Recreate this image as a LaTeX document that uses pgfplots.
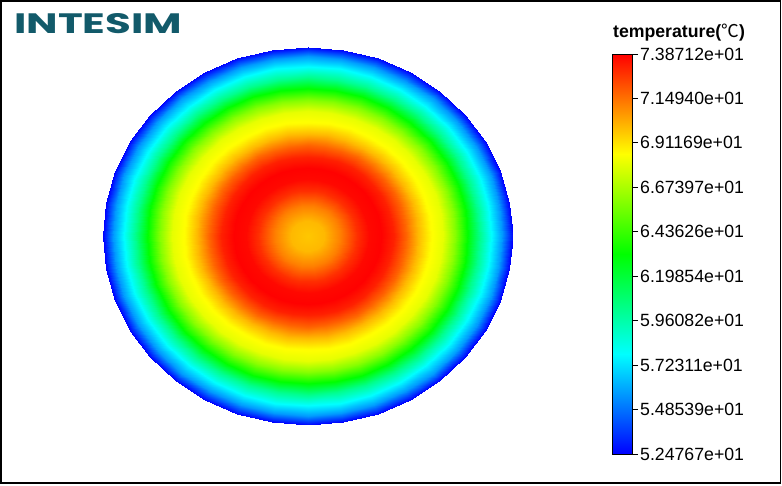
\documentclass[border=0pt]{standalone}
\usepackage{pgfplots}
\pgfplotsset{compat=1.18}
\usepackage{fontspec}
\setmainfont{Liberation Sans}
\newfontfamily\cjk{Noto Sans CJK SC}
\newfontfamily\logofont{Poppins}
\definecolor{logoteal}{RGB}{18,90,106}
\pgfplotsset{colormap={jetlike}{rgb255=(0,0,255) rgb255=(0,255,255) rgb255=(0,255,0) rgb255=(255,255,0) rgb255=(255,0,0)}}
\begin{document}
\begin{tikzpicture}[x=1pt,y=1pt]
\useasboundingbox (0,0) rectangle (782,485);
\begin{axis}[at={(307.5pt,249pt)}, anchor=center, width=410pt, height=378pt, scale only axis,
  xmin=-1,xmax=1,ymin=-1,ymax=1, hide axis, colormap name=jetlike,
  point meta min=52.4767, point meta max=73.8712]
\addplot[surf, shader=interp, data cs=polar, mesh/cols=17, point meta=explicit] table[x=a,y=r,meta=T] {
a r T
0 0 69.7
0 0.08 70.0
0 0.16 71.2
0 0.24 72.9
0 0.3 73.7
0 0.36 73.85
0 0.42 73.2
0 0.48 71.8
0 0.54 70.0
0 0.6 68.6
0 0.66 68.0
0 0.72 66.0
0 0.78 63.3
0 0.84 60.2
0 0.9 57.7
0 0.95 55.7
0 1 52.5
10 0 69.7
10 0.08 70.0
10 0.16 71.2
10 0.24 72.9
10 0.3 73.7
10 0.36 73.85
10 0.42 73.2
10 0.48 71.8
10 0.54 70.0
10 0.6 68.6
10 0.66 68.0
10 0.72 66.0
10 0.78 63.3
10 0.84 60.2
10 0.9 57.7
10 0.95 55.7
10 1 52.5
20 0 69.7
20 0.08 70.0
20 0.16 71.2
20 0.24 72.9
20 0.3 73.7
20 0.36 73.85
20 0.42 73.2
20 0.48 71.8
20 0.54 70.0
20 0.6 68.6
20 0.66 68.0
20 0.72 66.0
20 0.78 63.3
20 0.84 60.2
20 0.9 57.7
20 0.95 55.7
20 1 52.5
30 0 69.7
30 0.08 70.0
30 0.16 71.2
30 0.24 72.9
30 0.3 73.7
30 0.36 73.85
30 0.42 73.2
30 0.48 71.8
30 0.54 70.0
30 0.6 68.6
30 0.66 68.0
30 0.72 66.0
30 0.78 63.3
30 0.84 60.2
30 0.9 57.7
30 0.95 55.7
30 1 52.5
40 0 69.7
40 0.08 70.0
40 0.16 71.2
40 0.24 72.9
40 0.3 73.7
40 0.36 73.85
40 0.42 73.2
40 0.48 71.8
40 0.54 70.0
40 0.6 68.6
40 0.66 68.0
40 0.72 66.0
40 0.78 63.3
40 0.84 60.2
40 0.9 57.7
40 0.95 55.7
40 1 52.5
50 0 69.7
50 0.08 70.0
50 0.16 71.2
50 0.24 72.9
50 0.3 73.7
50 0.36 73.85
50 0.42 73.2
50 0.48 71.8
50 0.54 70.0
50 0.6 68.6
50 0.66 68.0
50 0.72 66.0
50 0.78 63.3
50 0.84 60.2
50 0.9 57.7
50 0.95 55.7
50 1 52.5
60 0 69.7
60 0.08 70.0
60 0.16 71.2
60 0.24 72.9
60 0.3 73.7
60 0.36 73.85
60 0.42 73.2
60 0.48 71.8
60 0.54 70.0
60 0.6 68.6
60 0.66 68.0
60 0.72 66.0
60 0.78 63.3
60 0.84 60.2
60 0.9 57.7
60 0.95 55.7
60 1 52.5
70 0 69.7
70 0.08 70.0
70 0.16 71.2
70 0.24 72.9
70 0.3 73.7
70 0.36 73.85
70 0.42 73.2
70 0.48 71.8
70 0.54 70.0
70 0.6 68.6
70 0.66 68.0
70 0.72 66.0
70 0.78 63.3
70 0.84 60.2
70 0.9 57.7
70 0.95 55.7
70 1 52.5
80 0 69.7
80 0.08 70.0
80 0.16 71.2
80 0.24 72.9
80 0.3 73.7
80 0.36 73.85
80 0.42 73.2
80 0.48 71.8
80 0.54 70.0
80 0.6 68.6
80 0.66 68.0
80 0.72 66.0
80 0.78 63.3
80 0.84 60.2
80 0.9 57.7
80 0.95 55.7
80 1 52.5
90 0 69.7
90 0.08 70.0
90 0.16 71.2
90 0.24 72.9
90 0.3 73.7
90 0.36 73.85
90 0.42 73.2
90 0.48 71.8
90 0.54 70.0
90 0.6 68.6
90 0.66 68.0
90 0.72 66.0
90 0.78 63.3
90 0.84 60.2
90 0.9 57.7
90 0.95 55.7
90 1 52.5
100 0 69.7
100 0.08 70.0
100 0.16 71.2
100 0.24 72.9
100 0.3 73.7
100 0.36 73.85
100 0.42 73.2
100 0.48 71.8
100 0.54 70.0
100 0.6 68.6
100 0.66 68.0
100 0.72 66.0
100 0.78 63.3
100 0.84 60.2
100 0.9 57.7
100 0.95 55.7
100 1 52.5
110 0 69.7
110 0.08 70.0
110 0.16 71.2
110 0.24 72.9
110 0.3 73.7
110 0.36 73.85
110 0.42 73.2
110 0.48 71.8
110 0.54 70.0
110 0.6 68.6
110 0.66 68.0
110 0.72 66.0
110 0.78 63.3
110 0.84 60.2
110 0.9 57.7
110 0.95 55.7
110 1 52.5
120 0 69.7
120 0.08 70.0
120 0.16 71.2
120 0.24 72.9
120 0.3 73.7
120 0.36 73.85
120 0.42 73.2
120 0.48 71.8
120 0.54 70.0
120 0.6 68.6
120 0.66 68.0
120 0.72 66.0
120 0.78 63.3
120 0.84 60.2
120 0.9 57.7
120 0.95 55.7
120 1 52.5
130 0 69.7
130 0.08 70.0
130 0.16 71.2
130 0.24 72.9
130 0.3 73.7
130 0.36 73.85
130 0.42 73.2
130 0.48 71.8
130 0.54 70.0
130 0.6 68.6
130 0.66 68.0
130 0.72 66.0
130 0.78 63.3
130 0.84 60.2
130 0.9 57.7
130 0.95 55.7
130 1 52.5
140 0 69.7
140 0.08 70.0
140 0.16 71.2
140 0.24 72.9
140 0.3 73.7
140 0.36 73.85
140 0.42 73.2
140 0.48 71.8
140 0.54 70.0
140 0.6 68.6
140 0.66 68.0
140 0.72 66.0
140 0.78 63.3
140 0.84 60.2
140 0.9 57.7
140 0.95 55.7
140 1 52.5
150 0 69.7
150 0.08 70.0
150 0.16 71.2
150 0.24 72.9
150 0.3 73.7
150 0.36 73.85
150 0.42 73.2
150 0.48 71.8
150 0.54 70.0
150 0.6 68.6
150 0.66 68.0
150 0.72 66.0
150 0.78 63.3
150 0.84 60.2
150 0.9 57.7
150 0.95 55.7
150 1 52.5
160 0 69.7
160 0.08 70.0
160 0.16 71.2
160 0.24 72.9
160 0.3 73.7
160 0.36 73.85
160 0.42 73.2
160 0.48 71.8
160 0.54 70.0
160 0.6 68.6
160 0.66 68.0
160 0.72 66.0
160 0.78 63.3
160 0.84 60.2
160 0.9 57.7
160 0.95 55.7
160 1 52.5
170 0 69.7
170 0.08 70.0
170 0.16 71.2
170 0.24 72.9
170 0.3 73.7
170 0.36 73.85
170 0.42 73.2
170 0.48 71.8
170 0.54 70.0
170 0.6 68.6
170 0.66 68.0
170 0.72 66.0
170 0.78 63.3
170 0.84 60.2
170 0.9 57.7
170 0.95 55.7
170 1 52.5
180 0 69.7
180 0.08 70.0
180 0.16 71.2
180 0.24 72.9
180 0.3 73.7
180 0.36 73.85
180 0.42 73.2
180 0.48 71.8
180 0.54 70.0
180 0.6 68.6
180 0.66 68.0
180 0.72 66.0
180 0.78 63.3
180 0.84 60.2
180 0.9 57.7
180 0.95 55.7
180 1 52.5
190 0 69.7
190 0.08 70.0
190 0.16 71.2
190 0.24 72.9
190 0.3 73.7
190 0.36 73.85
190 0.42 73.2
190 0.48 71.8
190 0.54 70.0
190 0.6 68.6
190 0.66 68.0
190 0.72 66.0
190 0.78 63.3
190 0.84 60.2
190 0.9 57.7
190 0.95 55.7
190 1 52.5
200 0 69.7
200 0.08 70.0
200 0.16 71.2
200 0.24 72.9
200 0.3 73.7
200 0.36 73.85
200 0.42 73.2
200 0.48 71.8
200 0.54 70.0
200 0.6 68.6
200 0.66 68.0
200 0.72 66.0
200 0.78 63.3
200 0.84 60.2
200 0.9 57.7
200 0.95 55.7
200 1 52.5
210 0 69.7
210 0.08 70.0
210 0.16 71.2
210 0.24 72.9
210 0.3 73.7
210 0.36 73.85
210 0.42 73.2
210 0.48 71.8
210 0.54 70.0
210 0.6 68.6
210 0.66 68.0
210 0.72 66.0
210 0.78 63.3
210 0.84 60.2
210 0.9 57.7
210 0.95 55.7
210 1 52.5
220 0 69.7
220 0.08 70.0
220 0.16 71.2
220 0.24 72.9
220 0.3 73.7
220 0.36 73.85
220 0.42 73.2
220 0.48 71.8
220 0.54 70.0
220 0.6 68.6
220 0.66 68.0
220 0.72 66.0
220 0.78 63.3
220 0.84 60.2
220 0.9 57.7
220 0.95 55.7
220 1 52.5
230 0 69.7
230 0.08 70.0
230 0.16 71.2
230 0.24 72.9
230 0.3 73.7
230 0.36 73.85
230 0.42 73.2
230 0.48 71.8
230 0.54 70.0
230 0.6 68.6
230 0.66 68.0
230 0.72 66.0
230 0.78 63.3
230 0.84 60.2
230 0.9 57.7
230 0.95 55.7
230 1 52.5
240 0 69.7
240 0.08 70.0
240 0.16 71.2
240 0.24 72.9
240 0.3 73.7
240 0.36 73.85
240 0.42 73.2
240 0.48 71.8
240 0.54 70.0
240 0.6 68.6
240 0.66 68.0
240 0.72 66.0
240 0.78 63.3
240 0.84 60.2
240 0.9 57.7
240 0.95 55.7
240 1 52.5
250 0 69.7
250 0.08 70.0
250 0.16 71.2
250 0.24 72.9
250 0.3 73.7
250 0.36 73.85
250 0.42 73.2
250 0.48 71.8
250 0.54 70.0
250 0.6 68.6
250 0.66 68.0
250 0.72 66.0
250 0.78 63.3
250 0.84 60.2
250 0.9 57.7
250 0.95 55.7
250 1 52.5
260 0 69.7
260 0.08 70.0
260 0.16 71.2
260 0.24 72.9
260 0.3 73.7
260 0.36 73.85
260 0.42 73.2
260 0.48 71.8
260 0.54 70.0
260 0.6 68.6
260 0.66 68.0
260 0.72 66.0
260 0.78 63.3
260 0.84 60.2
260 0.9 57.7
260 0.95 55.7
260 1 52.5
270 0 69.7
270 0.08 70.0
270 0.16 71.2
270 0.24 72.9
270 0.3 73.7
270 0.36 73.85
270 0.42 73.2
270 0.48 71.8
270 0.54 70.0
270 0.6 68.6
270 0.66 68.0
270 0.72 66.0
270 0.78 63.3
270 0.84 60.2
270 0.9 57.7
270 0.95 55.7
270 1 52.5
280 0 69.7
280 0.08 70.0
280 0.16 71.2
280 0.24 72.9
280 0.3 73.7
280 0.36 73.85
280 0.42 73.2
280 0.48 71.8
280 0.54 70.0
280 0.6 68.6
280 0.66 68.0
280 0.72 66.0
280 0.78 63.3
280 0.84 60.2
280 0.9 57.7
280 0.95 55.7
280 1 52.5
290 0 69.7
290 0.08 70.0
290 0.16 71.2
290 0.24 72.9
290 0.3 73.7
290 0.36 73.85
290 0.42 73.2
290 0.48 71.8
290 0.54 70.0
290 0.6 68.6
290 0.66 68.0
290 0.72 66.0
290 0.78 63.3
290 0.84 60.2
290 0.9 57.7
290 0.95 55.7
290 1 52.5
300 0 69.7
300 0.08 70.0
300 0.16 71.2
300 0.24 72.9
300 0.3 73.7
300 0.36 73.85
300 0.42 73.2
300 0.48 71.8
300 0.54 70.0
300 0.6 68.6
300 0.66 68.0
300 0.72 66.0
300 0.78 63.3
300 0.84 60.2
300 0.9 57.7
300 0.95 55.7
300 1 52.5
310 0 69.7
310 0.08 70.0
310 0.16 71.2
310 0.24 72.9
310 0.3 73.7
310 0.36 73.85
310 0.42 73.2
310 0.48 71.8
310 0.54 70.0
310 0.6 68.6
310 0.66 68.0
310 0.72 66.0
310 0.78 63.3
310 0.84 60.2
310 0.9 57.7
310 0.95 55.7
310 1 52.5
320 0 69.7
320 0.08 70.0
320 0.16 71.2
320 0.24 72.9
320 0.3 73.7
320 0.36 73.85
320 0.42 73.2
320 0.48 71.8
320 0.54 70.0
320 0.6 68.6
320 0.66 68.0
320 0.72 66.0
320 0.78 63.3
320 0.84 60.2
320 0.9 57.7
320 0.95 55.7
320 1 52.5
330 0 69.7
330 0.08 70.0
330 0.16 71.2
330 0.24 72.9
330 0.3 73.7
330 0.36 73.85
330 0.42 73.2
330 0.48 71.8
330 0.54 70.0
330 0.6 68.6
330 0.66 68.0
330 0.72 66.0
330 0.78 63.3
330 0.84 60.2
330 0.9 57.7
330 0.95 55.7
330 1 52.5
340 0 69.7
340 0.08 70.0
340 0.16 71.2
340 0.24 72.9
340 0.3 73.7
340 0.36 73.85
340 0.42 73.2
340 0.48 71.8
340 0.54 70.0
340 0.6 68.6
340 0.66 68.0
340 0.72 66.0
340 0.78 63.3
340 0.84 60.2
340 0.9 57.7
340 0.95 55.7
340 1 52.5
350 0 69.7
350 0.08 70.0
350 0.16 71.2
350 0.24 72.9
350 0.3 73.7
350 0.36 73.85
350 0.42 73.2
350 0.48 71.8
350 0.54 70.0
350 0.6 68.6
350 0.66 68.0
350 0.72 66.0
350 0.78 63.3
350 0.84 60.2
350 0.9 57.7
350 0.95 55.7
350 1 52.5
360 0 69.7
360 0.08 70.0
360 0.16 71.2
360 0.24 72.9
360 0.3 73.7
360 0.36 73.85
360 0.42 73.2
360 0.48 71.8
360 0.54 70.0
360 0.6 68.6
360 0.66 68.0
360 0.72 66.0
360 0.78 63.3
360 0.84 60.2
360 0.9 57.7
360 0.95 55.7
360 1 52.5
};
\end{axis}
\begin{axis}[at={(612pt,31pt)}, anchor=south west, width=20pt, height=400pt, scale only axis,
  xmin=0, xmax=1, ymin=52.4767, ymax=73.8712, xtick=\empty,
  colormap name=jetlike, point meta min=52.4767, point meta max=73.8712,
  ytick={52.4767,54.8539,57.2311,59.6082,61.9854,64.3626,66.7397,69.1169,71.4940,73.8712},
  yticklabels={5.24767e+01,5.48539e+01,5.72311e+01,5.96082e+01,6.19854e+01,6.43626e+01,6.67397e+01,6.91169e+01,7.14940e+01,7.38712e+01},
  tick align=outside, major tick length=6pt, ytick pos=right, yticklabel pos=right,
  tick style={black, line width=0.8pt}, axis line style={line width=0.8pt}, axis on top,
  yticklabel style={font=\fontsize{17.7}{20}\selectfont, anchor=west, inner xsep=0pt, xshift=2pt}]
\addplot[surf, shader=interp, mesh/cols=2, point meta=y] coordinates {(0,52.4767) (1,52.4767) (0,73.8712) (1,73.8712)};
\end{axis}
\draw[line width=1.3pt] (1,2) rectangle (780.5,484);
\node[anchor=north west, inner sep=0pt, text=logoteal] at (14,472) {\resizebox{168pt}{20pt}{\logofont\bfseries INTESIM}};
\node[anchor=base, inner sep=0pt, font=\fontsize{17.7}{20}\selectfont\bfseries] at (679,447) {temperature({\cjk\mdseries ℃})};
\end{tikzpicture}
\end{document}
